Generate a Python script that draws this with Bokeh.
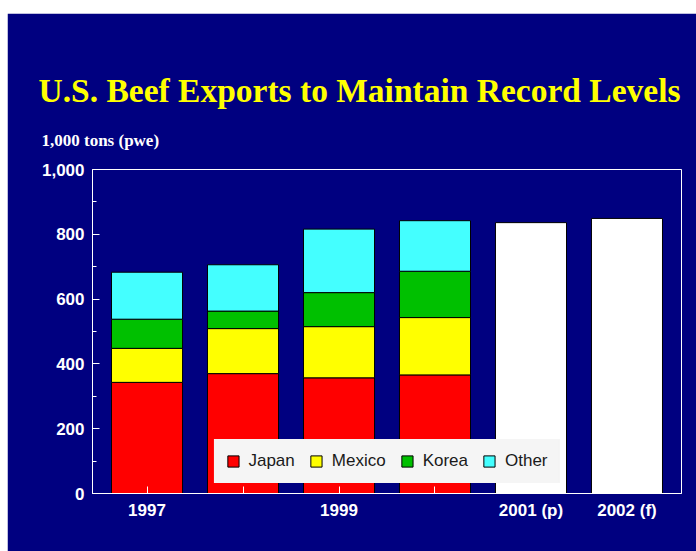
from bokeh.plotting import figure
from bokeh.models import (Range1d, FixedTicker, NumeralTickFormatter, Legend, LegendItem,
                          Title, Spacer, ColumnDataSource)
from bokeh.layouts import column, row
from bokeh.embed import file_html
from bokeh.resources import INLINE

# ---- data (1,000 tons, pwe) ----
categories = ["1997", "1998", "1999", "2000", "2001 (p)", "2002 (f)"]
tick_labels = ["1997", "", "1999", "", "2001 (p)", "2002 (f)"]
hist_years = ["1997", "1998", "1999", "2000"]
japan = [343, 370, 357, 366]
mexico = [105, 139, 158, 177]
korea = [90, 54, 105, 143]
other = [145, 143, 196, 156]
fc_years = ["2001 (p)", "2002 (f)"]
fc_totals = [836, 849]

series = ["Japan", "Mexico", "Korea", "Other"]
colors = ["#ff0000", "#ffff00", "#00c000", "#44ffff"]
NAVY = "#000080"

xpos = {c: i for i, c in enumerate(categories)}

src = ColumnDataSource(dict(x=[xpos[c] for c in hist_years],
                            Japan=japan, Mexico=mexico, Korea=korea, Other=other))
fsrc = ColumnDataSource(dict(x=[xpos[c] for c in fc_years], top=fc_totals))

p = figure(width=689, height=538, output_backend="svg", toolbar_location=None,
           x_range=Range1d(-0.568, 5.568), y_range=Range1d(0, 1000),
           min_border_left=85, min_border_right=15, min_border_top=156, min_border_bottom=58)
p.background_fill_color = NAVY
p.border_fill_color = NAVY
p.outline_line_color = "white"
p.outline_line_width = 1
p.xgrid.visible = False
p.ygrid.visible = False

renderers = p.vbar_stack(series, x="x", width=0.74, source=src, color=colors,
                         line_color="black", line_width=1)
p.vbar(x="x", top="top", width=0.74, source=fsrc, fill_color="white",
       line_color="black", line_width=1)

p.yaxis.ticker = FixedTicker(ticks=[0, 200, 400, 600, 800, 1000],
                             minor_ticks=[100, 300, 500, 700, 900])
p.yaxis.formatter = NumeralTickFormatter(format="0,0")
p.xaxis.ticker = FixedTicker(ticks=list(range(len(categories))))
p.xaxis.major_label_overrides = {i: t_ for i, t_ in enumerate(tick_labels)}
for ax in (p.xaxis, p.yaxis):
    ax.axis_line_color = "white"
    ax.major_tick_line_color = "white"
    ax.minor_tick_line_color = "white"
    ax.major_tick_in = 7
    ax.major_tick_out = 0
    ax.minor_tick_in = 4
    ax.minor_tick_out = 0
    ax.major_label_text_color = "white"
    ax.major_label_text_font = "Liberation Sans"
    ax.major_label_text_font_style = "bold"
    ax.major_label_text_font_size = "17px"
p.xaxis.minor_tick_line_color = None
p.xaxis.major_label_standoff = 7
p.yaxis.major_label_standoff = 8

legend = Legend(items=[LegendItem(label=s, renderers=[r]) for s, r in zip(series, renderers)],
                orientation="horizontal", location="bottom", margin=10,
                padding=11, spacing=14, label_standoff=9,
                glyph_width=14, glyph_height=14, label_height=14,
                label_text_font="Liberation Sans", label_text_font_size="17px",
                label_text_color="#1a1a1a",
                background_fill_color="#f5f5f5", background_fill_alpha=1.0,
                border_line_color="#f5f5f5", border_line_width=1)
p.add_layout(legend, "center")

# titles (first added sits closest to the frame)
p.add_layout(Title(text="1,000 tons (pwe)", align="left", offset=-51, standoff=40,
                   text_font="Liberation Serif", text_font_style="bold",
                   text_font_size="17px", text_color="white"), "above")
p.add_layout(Title(text="U.S. Beef Exports to Maintain Record Levels", align="left",
                   offset=-54, standoff=0,
                   text_font="Liberation Serif", text_font_style="bold",
                   text_font_size="33.5px", text_color="#ffff00"), "above")

layout = column(Spacer(height=13, width=696), row(Spacer(width=7, height=538), p))
open("out.html", "w").write(file_html(layout, INLINE))
